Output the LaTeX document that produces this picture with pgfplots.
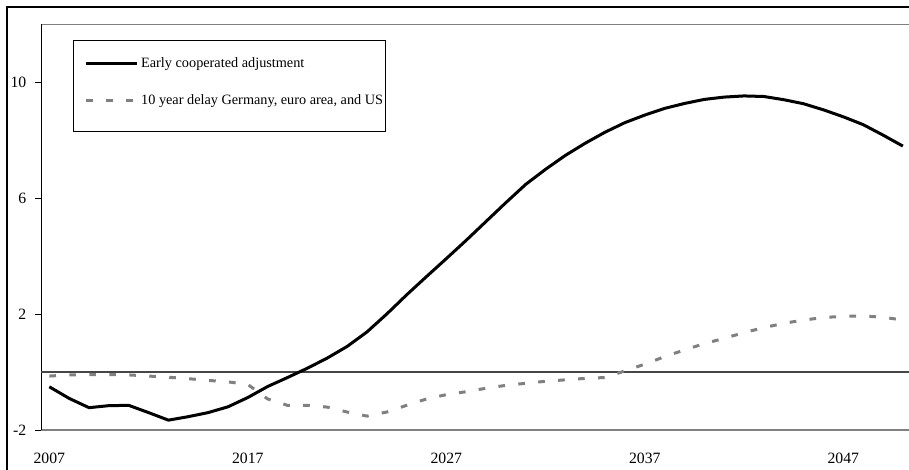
\documentclass[border=0pt]{standalone}
\usepackage{pgfplots}
\pgfplotsset{compat=1.18}
\usepackage{fontspec}
\setmainfont{Liberation Serif}
\definecolor{dgray}{RGB}{128,128,128}
\definecolor{zgray}{RGB}{70,70,70}
\pgfplotsset{deeplegend/.style={legend image code/.code={\path (-7pt,0pt); \path (0pt,-9pt); \draw[##1] (0pt,0pt) -- (38pt,0pt);}}}
\begin{document}
\begin{tikzpicture}
\useasboundingbox (0pt,0pt) rectangle (681.75pt,351.75pt);
\draw[black, line width=0.8pt] (5.25pt,-5pt) -- (5.25pt,346.5pt) -- (690pt,346.5pt);
\begin{axis}[
  at={(30.75pt,29.25pt)}, anchor=south west,
  scale only axis, width=651pt, height=304.5pt,
  xmin=2006.58, xmax=2050.31, ymin=-2, ymax=12,
  axis line style={draw=none},
  xtick={2007,2017,2027,2037,2047},
  xticklabels={2007,2017,2027,2037,2047},
  ytick={-2,2,6,10},
  yticklabels={-2,2,6,10},
  xtick pos=bottom, ytick pos=left,
  tick align=outside,
  major tick length=4.5pt,
  x tick style={draw=none},
  y tick style={black, line width=0.75pt},
  tick label style={font=\fontsize{11.8}{14}\selectfont},
  xticklabel style={yshift=-9pt},
  yticklabel style={anchor=east, xshift=-3pt},
  legend style={at={(0.0369,0.9606)}, anchor=north west, draw=black, line width=0.75pt,
    font=\fontsize{10.7}{12}\selectfont, inner xsep=1.5pt, inner ysep=13pt,
    row sep=18.75pt, column sep=2pt, nodes={inner sep=0pt}},
  legend cell align=left,
  legend image code/.code={\path (-7pt,0pt); \draw[#1] (0pt,0pt) -- (38pt,0pt);},
]
\draw[dgray, line width=1.1pt] (rel axis cs:0,1) -- (rel axis cs:1,1);
\draw[dgray, line width=1.1pt] (rel axis cs:0,0) -- (rel axis cs:1,0);
\draw[black, line width=0.8pt] (rel axis cs:0,0) -- (rel axis cs:0,1);
\draw[zgray, line width=1.1pt] (axis cs:2006.58,0) -- (axis cs:2050.31,0);
\addplot[black, line width=2.25pt] coordinates {
(2007,-0.51) (2008,-0.91) (2009,-1.23) (2010,-1.16) (2011,-1.15) (2012,-1.40)
(2013,-1.66) (2014,-1.54) (2015,-1.40) (2016,-1.20) (2017,-0.88) (2018,-0.50)
(2019,-0.19) (2020,0.13) (2021,0.48) (2022,0.88) (2023,1.38) (2024,2.00)
(2025,2.66) (2026,3.29) (2027,3.91) (2028,4.54) (2029,5.19) (2030,5.84)
(2031,6.47) (2032,6.99) (2033,7.47) (2034,7.89) (2035,8.27) (2036,8.60)
(2037,8.86) (2038,9.09) (2039,9.26) (2040,9.40) (2041,9.48) (2042,9.52)
(2043,9.50) (2044,9.39) (2045,9.25) (2046,9.04) (2047,8.80) (2048,8.53)
(2049,8.17) (2050,7.79)
};
\addlegendentry{Early cooperated adjustment}
\addplot[dgray, line width=2.25pt, dash pattern=on 5pt off 10pt, deeplegend] coordinates {
(2007,-0.14) (2008,-0.10) (2009,-0.09) (2010,-0.09) (2011,-0.10) (2012,-0.14)
(2013,-0.18) (2014,-0.23) (2015,-0.29) (2016,-0.34) (2017,-0.43) (2018,-0.93)
(2019,-1.15) (2020,-1.15) (2021,-1.21) (2022,-1.38) (2023,-1.52) (2024,-1.38)
(2025,-1.15) (2026,-0.93) (2027,-0.78) (2028,-0.68) (2029,-0.56) (2030,-0.46)
(2031,-0.39) (2032,-0.32) (2033,-0.27) (2034,-0.22) (2035,-0.19) (2036,0.04)
(2037,0.27) (2038,0.53) (2039,0.76) (2040,0.98) (2041,1.16) (2042,1.36)
(2043,1.53) (2044,1.68) (2045,1.79) (2046,1.88) (2047,1.92) (2048,1.93)
(2049,1.89) (2050,1.79)
};
\addlegendentry{10 year delay Germany, euro area, and US}
\end{axis}
\end{tikzpicture}
\end{document}
